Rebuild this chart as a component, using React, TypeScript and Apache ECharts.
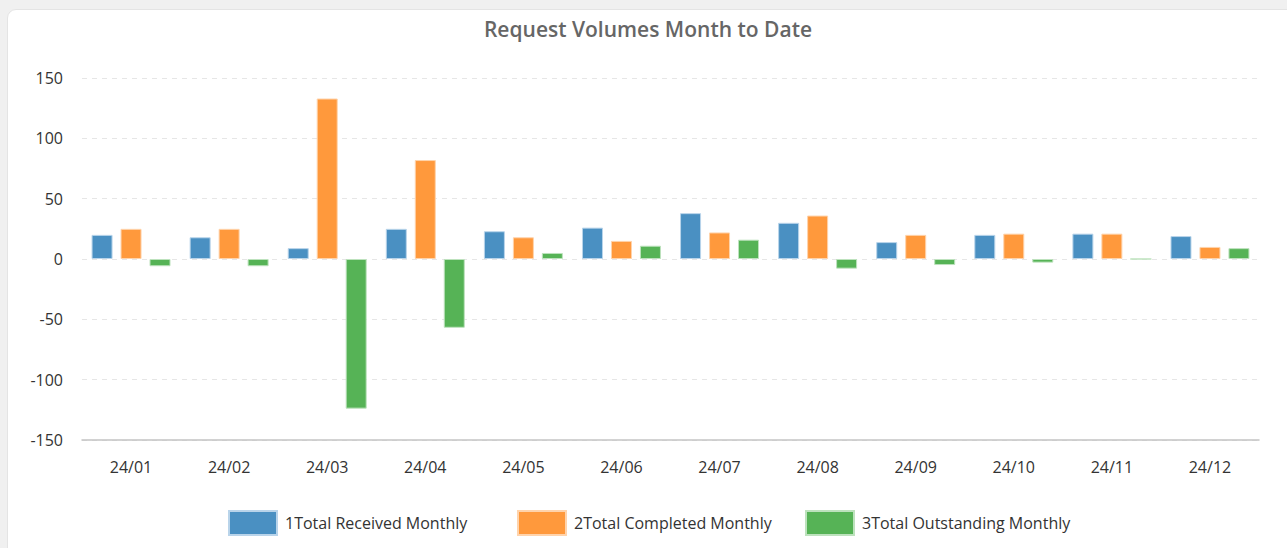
import React, { useEffect, useRef } from "react";
import * as echarts from "echarts";

const categories = ["24/01", "24/02", "24/03", "24/04", "24/05", "24/06", "24/07", "24/08", "24/09", "24/10", "24/11", "24/12"];
const received = [20, 18, 9, 25, 23, 26, 38, 30, 14, 20, 21, 19];
const completed = [25, 25, 133, 82, 18, 15, 22, 36, 20, 21, 21, 10];
const outstanding = [-6, -6, -124, -57, 5, 11, 16, -8, -5, -3, 0, 9];
const seriesNames = ["1Total Received Monthly", "2Total Completed Monthly", "3Total Outstanding Monthly"];
const colors = ["#4a90c2", "#ff993c", "#56b356"];
const borderColors = ["#b9d4ea", "#ffd3ab", "#bde2bd"];
const legendLefts = [228, 517, 805];

export default function App() {
  const ref = useRef<HTMLDivElement>(null);
  useEffect(() => {
    document.body.style.margin = "0";
    const chart = echarts.init(ref.current!, null, { renderer: "svg" });
    const font = "'Open Sans', 'Noto Sans', sans-serif";
    const data = [received, completed, outstanding];
    chart.setOption({
      animation: false,
      textStyle: { fontFamily: font },
      title: {
        text: "Request Volumes Month to Date",
        left: 648,
        textAlign: "center",
        top: 18,
        padding: 0,
        textStyle: { fontFamily: font, fontSize: 21, fontWeight: 600, color: "#666666" },
      },
      legend: seriesNames.map((name, i) => ({
        top: 510,
        left: legendLefts[i],
        padding: 0,
        itemWidth: 48,
        itemHeight: 24,
        icon: "rect",
        data: [name],
        textStyle: { fontFamily: font, fontSize: 16, color: "#333333", padding: [0, 0, 0, 3] },
      })),
      grid: { left: 82, right: 28, top: 78, bottom: 108, containLabel: false },
      xAxis: {
        type: "category",
        data: categories,
        axisLine: { onZero: false, lineStyle: { color: "#c4c4c4", width: 1.5 } },
        axisTick: { alignWithLabel: true, length: 6, lineStyle: { color: "#c4c4c4" } },
        axisLabel: { fontFamily: font, fontSize: 16, color: "#333333", margin: 19 },
      },
      yAxis: {
        type: "value",
        min: -150,
        max: 150,
        interval: 50,
        axisLine: { show: false },
        axisTick: { show: false },
        axisLabel: { fontFamily: font, fontSize: 16, color: "#333333", margin: 19 },
        splitLine: { lineStyle: { color: "#e6e6e6", type: [5, 5] } },
      },
      series: seriesNames.map((name, i) => ({
        name,
        type: "bar",
        data: data[i],
        barWidth: 21,
        barGap: "38%",
        itemStyle: { color: colors[i], borderColor: borderColors[i], borderWidth: 1 },
      })),
    });
    return () => chart.dispose();
  }, []);
  return (
    <div style={{ position: "absolute", left: 0, top: 0, width: 1287, height: 548, background: "#f0f0f0", overflow: "hidden" }}>
      <div
        style={{
          position: "absolute",
          left: 7,
          top: 9,
          width: 1290,
          height: 560,
          background: "#ffffff",
          border: "1.5px solid #e4e4e4",
          borderRadius: 9,
          boxSizing: "border-box",
        }}
      />
      <div ref={ref} style={{ position: "absolute", left: 0, top: 0, width: 1287, height: 548 }} />
    </div>
  );
}
